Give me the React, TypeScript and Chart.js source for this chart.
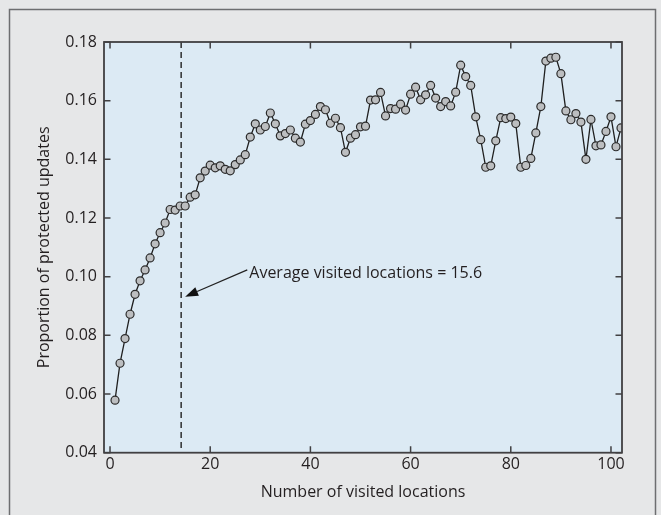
import React, { useEffect, useRef } from "react";
import { Chart, registerables } from "chart.js";

Chart.register(...registerables);

const VISITED: number[] = Array.from({ length: 102 }, (_, i) => i + 1);
const PROPORTION: number[] = [
  0.0579, 0.0705, 0.0789, 0.0872, 0.094, 0.0986, 0.1023, 0.1064, 0.1112, 0.115,
  0.1183, 0.1229, 0.1227, 0.1241, 0.1241, 0.1271, 0.1279, 0.1337, 0.136, 0.138,
  0.1371, 0.1378, 0.1366, 0.1361, 0.1382, 0.1398, 0.1416, 0.1476, 0.1521, 0.15,
  0.1512, 0.1558, 0.1521, 0.148, 0.1488, 0.15, 0.1472, 0.1459, 0.152, 0.1532,
  0.1553, 0.158, 0.1569, 0.1523, 0.154, 0.1508, 0.1424, 0.1472, 0.1484, 0.1511,
  0.1513, 0.1602, 0.1603, 0.1628, 0.1548, 0.1573, 0.1571, 0.1588, 0.1568, 0.1622,
  0.1646, 0.1603, 0.162, 0.1652, 0.1609, 0.158, 0.1597, 0.1582, 0.1629, 0.1721,
  0.1682, 0.1652, 0.1545, 0.1467, 0.1373, 0.1378, 0.1463, 0.1542, 0.1539, 0.1544,
  0.1522, 0.1373, 0.1379, 0.1403, 0.149, 0.158, 0.1735, 0.1745, 0.1748, 0.1692,
  0.1565, 0.1535, 0.1556, 0.1527, 0.14, 0.1536, 0.1446, 0.1449, 0.1495, 0.1545,
  0.1443, 0.1507,
];
const X_TICKS: number[] = [0, 20, 40, 60, 80, 100];
const Y_TICKS: number[] = [0.04, 0.06, 0.08, 0.1, 0.12, 0.14, 0.16, 0.18];
const X_TITLE = "Number of visited locations";
const Y_TITLE = "Proportion of protected updates";
const AVG_LINE_X = 14.2;
const ANNOT_TEXT = "Average visited locations = 15.6";
const ANNOT_TEXT_POS = { x: 27.8, y: 0.1012 };
const ANNOT_ARROW_FROM = { x: 27.4, y: 0.1023 };
const ANNOT_ARROW_TO = { x: 15.0, y: 0.0932 };

const FONT = '"Open Sans", "Noto Sans", sans-serif';
const TEXT_COLOR = "#231f20";
const FS = 16;

const decorPlugin = {
  id: "decor",
  beforeDraw(chart: any) {
    const { ctx, width, height, chartArea } = chart;
    ctx.save();
    ctx.fillStyle = "#e6e7e8";
    ctx.fillRect(0, 0, width, height);
    ctx.strokeStyle = "#6d6e70";
    ctx.lineWidth = 1.5;
    ctx.beginPath();
    ctx.moveTo(9.5, height + 2);
    ctx.lineTo(9.5, 9.5);
    ctx.lineTo(655.5, 9.5);
    ctx.lineTo(655.5, height + 2);
    ctx.stroke();
    ctx.fillStyle = "#dceaf4";
    ctx.fillRect(chartArea.left, chartArea.top, chartArea.right - chartArea.left, chartArea.bottom - chartArea.top);
    ctx.restore();
  },
  beforeDatasetsDraw(chart: any) {
    const { ctx, chartArea, scales } = chart;
    const xs = scales.x;
    const ys = scales.y;
    ctx.save();
    const ax = xs.getPixelForValue(AVG_LINE_X);
    ctx.strokeStyle = "#222";
    ctx.lineWidth = 1.4;
    ctx.setLineDash([6, 4]);
    ctx.beginPath();
    ctx.moveTo(ax, chartArea.top);
    ctx.lineTo(ax, chartArea.bottom);
    ctx.stroke();
    ctx.setLineDash([]);
    const fx = xs.getPixelForValue(ANNOT_ARROW_FROM.x);
    const fy = ys.getPixelForValue(ANNOT_ARROW_FROM.y);
    const tx = xs.getPixelForValue(ANNOT_ARROW_TO.x);
    const ty = ys.getPixelForValue(ANNOT_ARROW_TO.y);
    const ang = Math.atan2(ty - fy, tx - fx);
    const headLen = 13;
    const headW = 4.5;
    const bx = tx - headLen * Math.cos(ang);
    const by = ty - headLen * Math.sin(ang);
    ctx.lineWidth = 1.3;
    ctx.beginPath();
    ctx.moveTo(fx, fy);
    ctx.lineTo(bx, by);
    ctx.stroke();
    ctx.fillStyle = "#111";
    ctx.beginPath();
    ctx.moveTo(tx, ty);
    ctx.lineTo(bx + headW * Math.sin(ang), by - headW * Math.cos(ang));
    ctx.lineTo(bx - headW * Math.sin(ang), by + headW * Math.cos(ang));
    ctx.closePath();
    ctx.fill();
    ctx.fillStyle = TEXT_COLOR;
    ctx.font = `${FS}px ${FONT}`;
    ctx.textAlign = "left";
    ctx.textBaseline = "middle";
    ctx.fillText(ANNOT_TEXT, xs.getPixelForValue(ANNOT_TEXT_POS.x), ys.getPixelForValue(ANNOT_TEXT_POS.y));
    ctx.restore();
  },
  afterDatasetsDraw(chart: any) {
    const { ctx, chartArea, scales } = chart;
    const { left, right, top, bottom } = chartArea;
    const xs = scales.x;
    const ys = scales.y;
    const tl = 6.5;
    ctx.save();
    ctx.strokeStyle = "#414042";
    ctx.lineWidth = 1.5;
    ctx.beginPath();
    for (const v of X_TICKS) {
      const px = xs.getPixelForValue(v);
      ctx.moveTo(px, bottom);
      ctx.lineTo(px, bottom - tl);
      ctx.moveTo(px, top);
      ctx.lineTo(px, top + tl);
    }
    for (const v of Y_TICKS) {
      const py = ys.getPixelForValue(v);
      ctx.moveTo(left, py);
      ctx.lineTo(left + tl, py);
      ctx.moveTo(right, py);
      ctx.lineTo(right - tl, py);
    }
    ctx.stroke();
    ctx.lineWidth = 1.8;
    ctx.strokeRect(left, top, right - left, bottom - top);
    ctx.restore();
  },
};

export default function App() {
  const ref = useRef<HTMLCanvasElement | null>(null);
  useEffect(() => {
    document.body.style.margin = "0";
    const canvas = ref.current;
    if (!canvas) return;
    const chart = new Chart(canvas, {
      type: "line",
      data: {
        datasets: [
          {
            data: VISITED.map((x, i) => ({ x, y: PROPORTION[i] })),
            borderColor: "#1f1f1f",
            borderWidth: 1.3,
            pointRadius: 4,
            pointBorderWidth: 1.2,
            pointBackgroundColor: "#bcbec0",
            pointBorderColor: "#2b2b2b",
            tension: 0,
            fill: false,
          },
        ],
      },
      options: {
        responsive: false,
        animation: false,
        events: [],
        layout: { padding: { top: 42, right: 39, left: 0, bottom: 0 } },
        plugins: { legend: { display: false }, tooltip: { enabled: false } },
        scales: {
          x: {
            type: "linear",
            min: -1.2,
            max: 102.2,
            grid: { display: false, drawTicks: false },
            border: { display: false },
            afterBuildTicks: (s: any) => {
              s.ticks = X_TICKS.map((v) => ({ value: v }));
            },
            afterFit: (s: any) => {
              s.height = 62.3;
            },
            ticks: {
              autoSkip: false,
              maxRotation: 0,
              padding: 2,
              color: TEXT_COLOR,
              font: { family: FONT, size: FS },
              callback: (v: any) => String(v),
            },
            title: {
              display: true,
              text: X_TITLE,
              color: TEXT_COLOR,
              font: { family: FONT, size: FS },
              padding: { top: 0, bottom: 13.4 },
            },
          },
          y: {
            type: "linear",
            min: 0.04,
            max: 0.18,
            grid: { display: false, drawTicks: false },
            border: { display: false },
            afterBuildTicks: (s: any) => {
              s.ticks = Y_TICKS.map((v) => ({ value: v }));
            },
            afterFit: (s: any) => {
              s.width = 104;
            },
            ticks: {
              autoSkip: false,
              padding: 7,
              color: TEXT_COLOR,
              font: { family: FONT, size: FS },
              callback: (v: any) => Number(v).toFixed(2),
            },
            title: {
              display: true,
              text: Y_TITLE,
              color: TEXT_COLOR,
              font: { family: FONT, size: FS },
              padding: { top: 34.4, bottom: 0 },
            },
          },
        },
      },
      plugins: [decorPlugin],
    });
    return () => chart.destroy();
  }, []);
  return <canvas ref={ref} width={661} height={515} style={{ display: "block" }} />;
}
